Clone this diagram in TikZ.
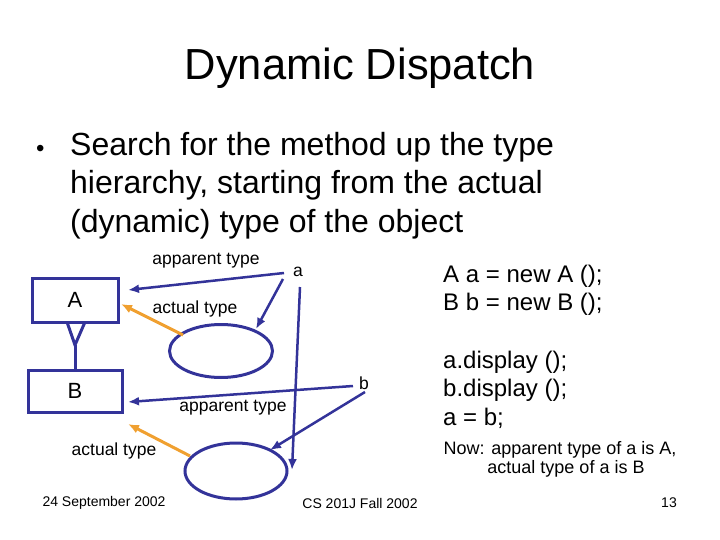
\documentclass[tikz,border=0pt]{standalone}
\usepackage{fontspec}
\setmainfont{Liberation Sans}
\usetikzlibrary{shapes.geometric,arrows.meta}
\begin{document}
\begin{tikzpicture}[x=1pt,y=-1pt,
  nv/.style={draw=navy,line width=3pt},
  arr/.style={draw=navy,line width=2.5pt,-{Latex[length=11pt,width=9pt]}},
  oarr/.style={draw=orng,line width=3pt,-{Latex[length=11pt,width=9pt]}},
  lbl/.style={font=\fontsize{17.5}{20}\selectfont,inner sep=0pt},
  code/.style={font=\fontsize{24}{28}\selectfont,inner sep=0pt,anchor=west},
  foot/.style={font=\fontsize{14}{16}\selectfont,inner sep=0pt}]
\definecolor{navy}{HTML}{333399}
\definecolor{orng}{HTML}{F0A030}
\useasboundingbox (0,0) rectangle (720,540);
\node[inner sep=0pt,font=\fontsize{43.5}{50}\selectfont] (title) at (360,68) {Dynamic Dispatch};
\node[inner sep=0pt,anchor=west,font=\fontsize{24}{30}\selectfont] (dot) at (36,151) {•};
\node[inner sep=0pt,anchor=north west,align=left,font=\fontsize{32}{38.5}\selectfont] (bul) at (70,132) {Search for the method up the type\\hierarchy, starting from the actual\\(dynamic) type of the object};
\node[nv,minimum width=86pt,minimum height=44pt,font=\fontsize{22}{26}\selectfont] (A) at (75,300) {A};
\node[nv,minimum width=94pt,minimum height=42pt,font=\fontsize{22}{26}\selectfont] (B) at (75,391) {B};
\coordinate (tip) at (75,345);
\draw[nv] (67,322) -- (tip) -- (85,322);
\draw[nv] (tip) -- (B.north);
\node[nv,ellipse,minimum width=103pt,minimum height=53pt] (e1) at (221,351) {};
\node[nv,ellipse,minimum width=102pt,minimum height=56pt] (e2) at (236,471) {};
\node[lbl] (la) at (298,272) {a};
\node[lbl] (lb) at (364,383) {b};
\node[lbl] (ap1) at (206,261) {apparent type};
\node[lbl] (ac1) at (195,309) {actual type};
\node[lbl] (ap2) at (233,408) {apparent type};
\node[lbl] (ac2) at (114,451) {actual type};
\coordinate (a1) at (284,273); \coordinate (a2) at (283,279); \coordinate (a3) at (300,287);
\coordinate (b1) at (353,386); \coordinate (b2) at (365,392);
\draw[arr] (a1) -- (128,290);
\draw[arr] (a2) -- (256,329);
\draw[arr] (a3) -- (292,470);
\draw[arr] (b1) -- (128,402);
\draw[arr] (b2) -- (270,450);
\draw[oarr] (183,335) -- (121,304);
\draw[oarr] (190,456) -- (128,424);
\node[code] (c1) at (443,276) {A a = new A ();};
\node[code] (c2) at (443,304) {B b = new B ();};
\node[code] (c3) at (443,362) {a.display ();};
\node[code] (c4) at (443,390) {b.display ();};
\node[code] (c5) at (443,418) {a = b;};
\node[inner sep=0pt,align=center,font=\fontsize{18}{19}\selectfont] (now) at (560,459) {Now: apparent type of a is A,\\\hspace*{12pt}actual type of a is B};
\node[foot] (f1) at (104,503) {24 September 2002};
\node[foot] (f2) at (360,503) {CS 201J Fall 2002};
\node[foot] (f3) at (669,503) {13};
\end{tikzpicture}
\end{document}
